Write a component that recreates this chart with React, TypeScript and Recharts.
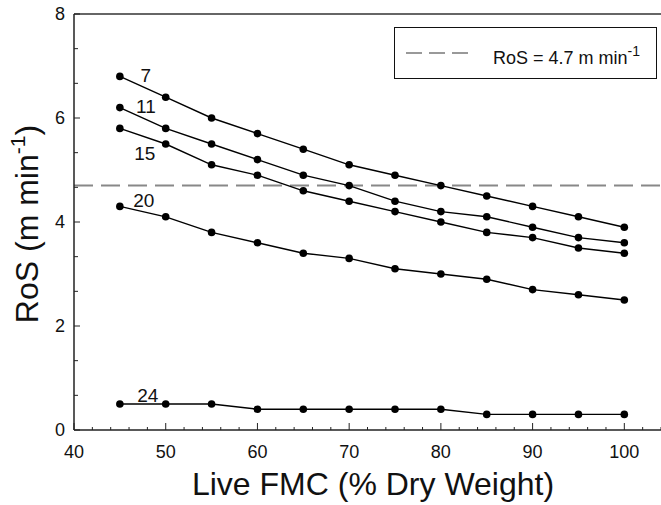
import React from "react";
import { Legend, Line, LineChart, ReferenceLine, XAxis, YAxis } from "recharts";

// live fuel moisture content (% dry weight)
const fmc = [45, 50, 55, 60, 65, 70, 75, 80, 85, 90, 95, 100];

// rate of spread (m/min) per series
const ros7 = [6.8, 6.4, 6.0, 5.7, 5.4, 5.1, 4.9, 4.7, 4.5, 4.3, 4.1, 3.9];
const ros11 = [6.2, 5.8, 5.5, 5.2, 4.9, 4.7, 4.4, 4.2, 4.1, 3.9, 3.7, 3.6];
const ros15 = [5.8, 5.5, 5.1, 4.9, 4.6, 4.4, 4.2, 4.0, 3.8, 3.7, 3.5, 3.4];
const ros20 = [4.3, 4.1, 3.8, 3.6, 3.4, 3.3, 3.1, 3.0, 2.9, 2.7, 2.6, 2.5];
const ros24 = [0.5, 0.5, 0.5, 0.4, 0.4, 0.4, 0.4, 0.4, 0.3, 0.3, 0.3, 0.3];

const seriesNames = ["7", "11", "15", "20", "24"];
const seriesValues = [ros7, ros11, ros15, ros20, ros24];

const threshold = 4.7;

const xTicks = [40, 42, 44, 46, 48, 50, 52, 54, 56, 58, 60, 62, 64, 66, 68, 70, 72, 74, 76, 78, 80, 82, 84, 86, 88, 90, 92, 94, 96, 98, 100, 102, 104];
const xLabels = [40, 50, 60, 70, 80, 90, 100];
const yTicks = [0, 2 / 3, 4 / 3, 2, 8 / 3, 10 / 3, 4, 14 / 3, 16 / 3, 6, 20 / 3, 22 / 3, 8];
const yLabels = [0, 2, 4, 6, 8];

const data = fmc.map((x, i) => {
  const row: Record<string, number> = { fmc: x };
  seriesNames.forEach((name, s) => {
    row["s" + name] = seriesValues[s][i];
  });
  return row;
});

// label offsets from first point of each curve (styling only)
const labelOffset: Record<string, [number, number]> = {
  "7": [26, -1],
  "11": [26, -1],
  "15": [25, 25],
  "20": [24, -6],
  "24": [28, -9],
};

const FONT = "'Liberation Sans', Arial, sans-serif";
const AXIS = "#222";
const TICK_MARGIN = 9;

function YTick(props: any) {
  const { x, y, payload } = props;
  const v = payload.value;
  const major = yLabels.some((l) => Math.abs(l - v) < 1e-6);
  const ax = x + TICK_MARGIN;
  return (
    <g>
      <line x1={ax} x2={ax + (major ? 6 : 4)} y1={y} y2={y} stroke={AXIS} strokeWidth={1} />
      {major && (
        <text x={x} y={y} dy="0.36em" textAnchor="end" fontSize={18} fill="#111" fontFamily={FONT}>
          {Math.round(v)}
        </text>
      )}
    </g>
  );
}

function XTick(props: any) {
  const { x, y, payload } = props;
  const v = payload.value;
  const major = xLabels.includes(v);
  const ay = y - TICK_MARGIN;
  return (
    <g>
      <line x1={x} x2={x} y1={ay} y2={ay - (major ? 7 : 3)} stroke={AXIS} strokeWidth={1} />
      {major && (
        <text x={x} y={y} dy="1.05em" textAnchor="middle" fontSize={18} fill="#111" fontFamily={FONT}>
          {v}
        </text>
      )}
    </g>
  );
}

function makeLabel(name: string) {
  return (props: any) => {
    const { x, y, index } = props;
    if (index !== 0) return null;
    const [dx, dy] = labelOffset[name];
    return (
      <text x={x + dx} y={y + dy} dy="0.36em" textAnchor="middle" fontSize={19} fill="#111" fontFamily={FONT}>
        {name}
      </text>
    );
  };
}

const xTitle = () => (
  <text x={373} y={495} textAnchor="middle" fontSize={32} fill="#111" fontFamily={FONT}>
    Live FMC (% Dry Weight)
  </text>
);

const yTitle = () => (
  <text x={38} y={224} transform="rotate(-90 38 224)" textAnchor="middle" fontSize={32} fill="#111" fontFamily={FONT}>
    RoS (m min
    <tspan fontSize={21} dy={-13}>
      -1
    </tspan>
    <tspan dy={13}>)</tspan>
  </text>
);

function LegendBox() {
  return (
    <div
      style={{
        width: 263,
        height: 52,
        boxSizing: "border-box",
        border: "1px solid #111",
        background: "#fff",
        position: "relative",
        fontFamily: FONT,
      }}
    >
      <svg width={70} height={50} style={{ position: "absolute", left: 10, top: 0 }}>
        <line x1={1} x2={64} y1={25} y2={25} stroke="#999" strokeWidth={2} strokeDasharray="16 7" />
      </svg>
      <div style={{ position: "absolute", left: 98, top: 20, fontSize: 18, color: "#111", whiteSpace: "nowrap", lineHeight: "20px" }}>
        RoS = 4.7 m min<sup style={{ fontSize: 14, lineHeight: 0, verticalAlign: 0, position: "relative", top: -8 }}>-1</sup>
      </div>
    </div>
  );
}

export default function App() {
  return (
    <div style={{ position: "absolute", left: 0, top: 0, width: 661, height: 505, background: "#fff" }}>
      <LineChart width={661} height={505} data={data} margin={{ top: 14, right: 0, bottom: 0, left: 0 }}>
        <XAxis
          dataKey="fmc"
          type="number"
          domain={[40, 104]}
          ticks={xTicks}
          interval={0}
          tickSize={0}
          tickMargin={TICK_MARGIN}
          tick={<XTick />}
          height={75}
          axisLine={{ stroke: AXIS, strokeWidth: 1.5 }}
          label={xTitle}
        />
        <YAxis
          type="number"
          domain={[0, 8]}
          ticks={yTicks}
          interval={0}
          tickSize={0}
          tickMargin={TICK_MARGIN}
          tick={<YTick />}
          width={74}
          axisLine={{ stroke: AXIS, strokeWidth: 1.5 }}
          label={yTitle}
        />
        <ReferenceLine y={8} stroke="#666" strokeWidth={2} />
        <ReferenceLine y={threshold} stroke="#888" strokeWidth={2} strokeDasharray="19 8" />
        {seriesNames.map((name) => (
          <Line
            key={name}
            dataKey={"s" + name}
            stroke="#000"
            strokeWidth={1.4}
            dot={{ r: 3.8, fill: "#000", stroke: "#000", strokeWidth: 0 }}
            activeDot={false}
            isAnimationActive={false}
            label={makeLabel(name)}
          />
        ))}
        <Legend
          layout="vertical"
          align="center"
          verticalAlign="middle"
          wrapperStyle={{ position: "absolute", left: 394, top: 27, width: 263, height: 52 }}
          content={() => <LegendBox />}
        />
      </LineChart>
    </div>
  );
}
